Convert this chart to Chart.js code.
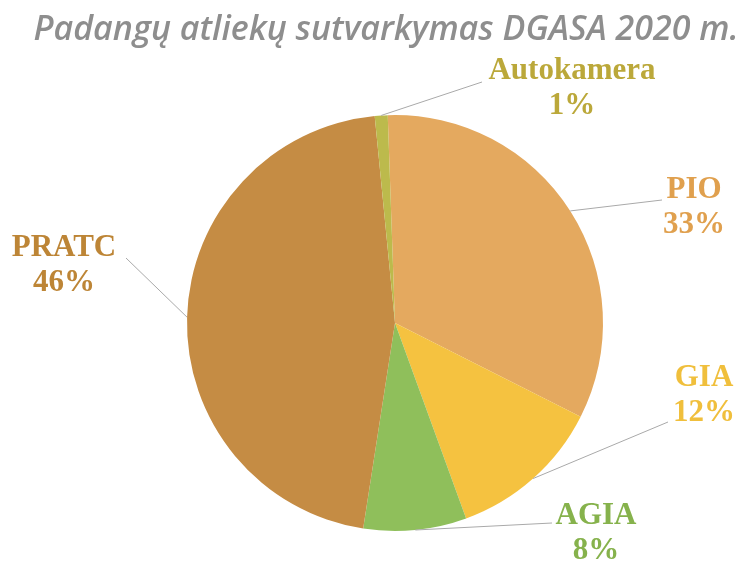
<!DOCTYPE html>
<html>
<head>
<meta charset="utf-8">
<script src="https://cdn.jsdelivr.net/npm/chart.js@4.4.1/dist/chart.umd.min.js"></script>
<style>
  html, body { margin: 0; padding: 0; background: #fff; }
  #wrap { width: 746px; height: 563px; }
</style>
</head>
<body>
<div id="wrap"><canvas id="pieChart" width="746" height="563"></canvas></div>
<script>
// Daten (clockwise, starting at 12 o'clock)
const chartTitle = 'Padangų atliekų sutvarkymas DGASA 2020 m.';
const categories = ['PIO', 'GIA', 'AGIA', 'PRATC', 'Autokamera'];
const shares = [33, 12, 8, 46, 1];
const sliceColors = ['#e4a95f', '#f5c240', '#8fbf5b', '#c58c44', '#bcba4c'];
const labelColors = ['#e0a04e', '#f0bf3c', '#86b24c', '#bd8536', '#bba83a'];

// where each label block sits (center of name line) and where its leader ends
const labelLayout = [
    { x: 694, y: 190, lx: 662, ly: 200 },
    { x: 704, y: 378, lx: 668, ly: 422 },
    { x: 596, y: 516, lx: 552, ly: 523 },
    { x: 64,  y: 248, lx: 126, ly: 258 },
    { x: 572, y: 71,  lx: 482, ly: 82 }
];

// Titel selbst zeichnen (Chart.js quetscht zu breite Titel in die Box)
const wideTitle = {
    id: 'wideTitle',
    afterDraw(chart) {
        const ctx = chart.ctx;
        ctx.save();
        ctx.fillStyle = '#8e8e8e';
        ctx.font = 'italic 600 34px "Open Sans", sans-serif';
        ctx.textAlign = 'center';
        ctx.textBaseline = 'alphabetic';
        ctx.fillText(chartTitle, 386, 40);
        ctx.restore();
    }
};

const outsideLabels = {
    id: 'outsideLabels',
    afterDatasetsDraw(chart) {
        const ctx = chart.ctx;
        const meta = chart.getDatasetMeta(0);
        meta.data.forEach((arc, i) => {
            const p = arc.getProps(['x', 'y', 'startAngle', 'endAngle', 'outerRadius'], true);
            const mid = (p.startAngle + p.endAngle) / 2;
            const ax = p.x + Math.cos(mid) * p.outerRadius;
            const ay = p.y + Math.sin(mid) * p.outerRadius;
            const lay = labelLayout[i];

            // leader line
            ctx.save();
            ctx.strokeStyle = '#a9a9a9';
            ctx.lineWidth = 1;
            ctx.beginPath();
            ctx.moveTo(ax, ay);
            ctx.lineTo(lay.lx, lay.ly);
            ctx.stroke();

            // label text
            ctx.fillStyle = labelColors[i];
            ctx.font = 'bold 31px "Liberation Serif", "Times New Roman", serif';
            ctx.textAlign = 'center';
            ctx.textBaseline = 'middle';
            ctx.fillText(categories[i], lay.x, lay.y);
            ctx.fillText(shares[i] + '%', lay.x, lay.y + 35);
            ctx.restore();
        });
    }
};

const config = {
    type: 'pie',
    data: {
        labels: categories,
        datasets: [{
            data: shares,
            backgroundColor: sliceColors,
            borderWidth: 0,
            radius: 208
        }]
    },
    options: {
        responsive: false,
        animation: false,
        rotation: -2,
        layout: {
            padding: { top: 87, bottom: 4, left: 82, right: 38 }
        },
        plugins: {
            legend: { display: false },
            tooltip: { enabled: false },
            title: { display: false }
        }
    },
    plugins: [outsideLabels, wideTitle]
};

const pieChart = new Chart(document.getElementById('pieChart'), config);
</script>
</body>
</html>
